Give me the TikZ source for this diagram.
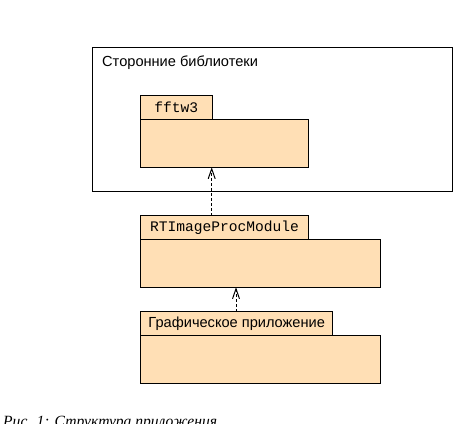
\documentclass[tikz,border=0pt]{standalone}
\usepackage{fontspec}
\setmainfont{Liberation Serif}
\setsansfont{Liberation Sans}
\setmonofont{Liberation Mono}
\usetikzlibrary{arrows.meta}
\definecolor{pkgfill}{RGB}{255,223,181}
\tikzset{
  every picture/.style={x=1pt,y=-1pt},
  pkgtab/.style={draw=black, line width=1pt, fill=pkgfill, anchor=north west, inner sep=0pt, outer sep=0pt},
  pkgbody/.style={draw=black, line width=1pt, fill=pkgfill, anchor=north west, inner sep=0pt, outer sep=0pt},
  framebox/.style={draw=black, line width=1pt, anchor=north west, inner sep=0pt, outer sep=0pt},
  dep/.style={densely dashed, line width=0.8pt, -{Straight Barb[length=10pt,width=7pt,line width=1pt]}},
  sanslabel/.style={font=\sffamily\fontsize{14.6}{16}\selectfont, inner sep=0pt},
  monolabel/.style={font=\ttfamily\fontsize{14.6}{16}\selectfont, inner sep=0pt},
}
\begin{document}
\begin{tikzpicture}
\useasboundingbox (0,0) rectangle (455,423);
\clip (0,0) rectangle (455,423);
% outer frame
\node[framebox, minimum width=360pt, minimum height=144pt] (lib) at (92.5,47) {};
\node[sanslabel, anchor=base west] (libtitle) at (102,66) {Сторонние библиотеки};
% fftw3 package
\node[pkgbody, minimum width=168.7pt, minimum height=48pt] (fftwbody) at (140,119.3) {};
\node[pkgtab, minimum width=72.7pt, minimum height=24pt] (fftwtab) at (140,95.3) {};
\node[monolabel] (fftwlbl) at (fftwtab.center) {fftw3};
% RTImageProcModule package
\node[pkgbody, minimum width=239.6pt, minimum height=48pt] (rtbody) at (140.7,239.3) {};
\node[pkgtab, minimum width=167.6pt, minimum height=23.6pt] (rttab) at (140.7,215.7) {};
\node[monolabel] (rtlbl) at (rttab.center) {RTImageProcModule};
% Графическое приложение package
\node[pkgbody, minimum width=239.6pt, minimum height=48pt] (appbody) at (140.7,335.3) {};
\node[pkgtab, minimum width=192pt, minimum height=23.6pt] (apptab) at (140.7,311.7) {};
\node[sanslabel] (applbl) at (apptab.center) {Графическое приложение};
% dependencies
\draw[dep] (rttab.north west) ++(71,0) coordinate (d1s) -- (d1s |- fftwbody.south);
\draw[dep] (apptab.north west) ++(95.3,0) coordinate (d2s) -- (d2s |- rtbody.south);
% caption (clipped at the lower edge, as in the reference)
\node[font=\itshape\fontsize{15.6}{17}\selectfont, anchor=base west, inner sep=0pt] (caption) at (3,426) {Рис. 1: Структура приложения};
\end{tikzpicture}
\end{document}
